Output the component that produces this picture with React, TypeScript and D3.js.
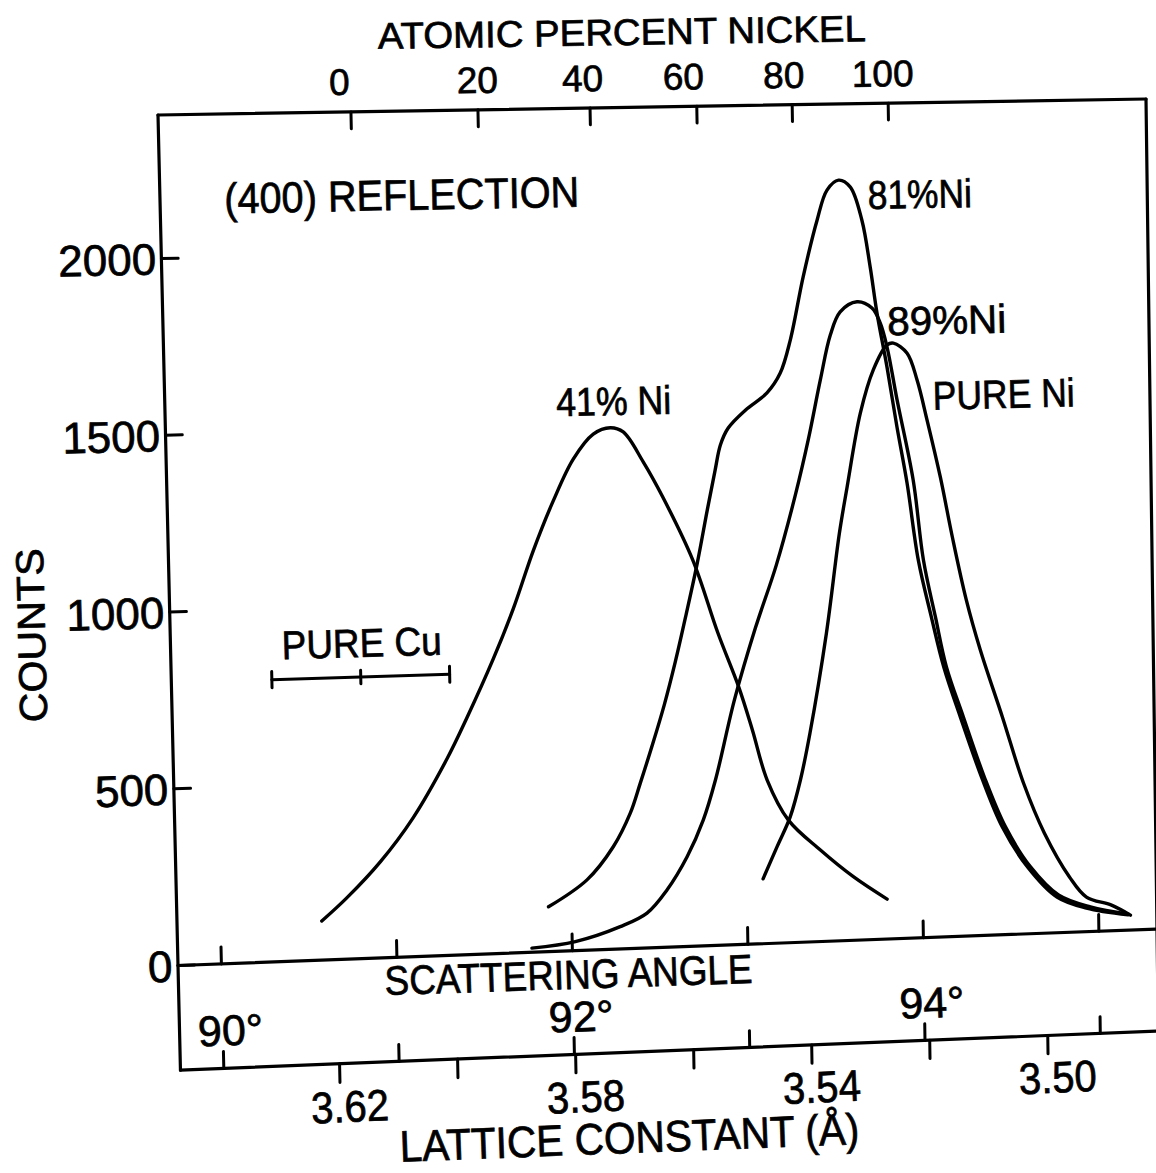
import React from 'react';
import * as d3 from 'd3';

// ---------- data (scattering angle in degrees, counts) ----------
const ANGLE_41 = [90.577, 90.722, 90.917, 91.109, 91.308, 91.426, 91.583, 91.702, 91.822, 91.941, 92.059, 92.175, 92.272, 92.345, 92.455, 92.565, 92.726, 92.861, 92.974, 93.047, 93.126, 93.243, 93.422, 93.607, 93.797];
const COUNTS_41 = [111, 174, 273, 395, 559, 674, 840, 981, 1145, 1286, 1404, 1474, 1491, 1478, 1391, 1286, 1106, 895, 738, 614, 469, 352, 263, 183, 115];

const ANGLE_81 = [91.869, 92.091, 92.244, 92.345, 92.405, 92.477, 92.549, 92.616, 92.683, 92.751, 92.813, 92.862, 92.894, 92.94, 93.039, 93.163, 93.24, 93.30, 93.379, 93.463, 93.522, 93.588, 93.653, 93.716, 93.759, 93.793, 93.845, 93.896, 93.948, 94.005, 94.074, 94.14, 94.23, 94.345, 94.459, 94.599, 94.764, 94.931, 95.168];
const COUNTS_81 = [128, 201, 293, 388, 473, 580, 694, 816, 952, 1097, 1248, 1363, 1434, 1482, 1532, 1580, 1636, 1730, 1911, 2073, 2159, 2187, 2167, 2071, 1935, 1803, 1646, 1473, 1311, 1088, 923, 778, 632, 457, 311, 193, 103, 68, 44];

const ANGLE_89 = [91.77, 92.018, 92.275, 92.429, 92.545, 92.663, 92.759, 92.832, 92.948, 93.074, 93.199, 93.314, 93.392, 93.466, 93.527, 93.585, 93.681, 93.765, 93.811, 93.847, 93.899, 93.983, 94.034, 94.097, 94.155, 94.247, 94.361, 94.477, 94.616, 94.773, 94.954, 95.17];
const COUNTS_89 = [12, 26, 64, 100, 164, 257, 361, 474, 702, 906, 1085, 1285, 1442, 1613, 1742, 1808, 1836, 1817, 1773, 1704, 1551, 1319, 1088, 923, 778, 632, 457, 311, 193, 109, 71, 46];

const ANGLE_NI = [93.093, 93.176, 93.254, 93.315, 93.374, 93.477, 93.56, 93.608, 93.69, 93.767, 93.847, 93.883, 93.96, 94.014, 94.067, 94.137, 94.2, 94.274, 94.349, 94.469, 94.583, 94.698, 94.837, 94.932, 95.074, 95.181];
const COUNTS_NI = [186, 277, 362, 466, 600, 886, 1172, 1304, 1516, 1639, 1710, 1715, 1685, 1607, 1491, 1326, 1152, 969, 824, 628, 436, 289, 160, 100, 74, 43];

const SERIES = [
  { name: '41% Ni', angle: ANGLE_41, counts: COUNTS_41 },
  { name: '81% Ni', angle: ANGLE_81, counts: COUNTS_81 },
  { name: '89% Ni', angle: ANGLE_89, counts: COUNTS_89 },
  { name: 'Pure Ni', angle: ANGLE_NI, counts: COUNTS_NI },
];

// axes
const COUNT_TICKS = [0, 500, 1000, 1500, 2000];
const ANGLE_TICKS = [90, 91, 92, 93, 94, 95];
const ANGLE_LABELS = [90, 92, 94];
const LATTICE_TICKS = [3.62, 3.60, 3.58, 3.56, 3.54, 3.52, 3.50];
const LATTICE_LABELS = [3.62, 3.58, 3.54, 3.50];
const NI_PERCENT = [0, 20, 40, 60, 80, 100];
const NI_LATTICE = [3.6146, 3.5933, 3.5745, 3.5566, 3.5406, 3.5245];
const NI_LABEL_NUDGE = [-11, 0, -7, -13, -8, -5];

// pure Cu marker (lattice constant range and level)
const CU_LATTICE = [3.630, 3.615, 3.600];
const CU_COUNTS = 800;

// ---------- scales (to normalized frame coords) ----------
const angleScale = d3.scaleLinear().domain([90, 95]).range([0.04433, 0.94063]);
const latticeScale = d3.scaleLinear().domain([3.62, 3.50]).range([0.1627, 0.8869]);
const countScale = d3.scaleLinear().domain([0, 2406]).range([1, 0]);

// frame corners on page (scan is slightly skewed)
const TL = [158, 115];
const TR = [1146, 99];
const BL = [178, 965.5];
const BR = [1157, 929];
const V_BOTTOM = 1.123;

function warp(u: number, v: number): [number, number] {
  const x = TL[0] + (TR[0] - TL[0]) * u + (BL[0] - TL[0]) * v + (BR[0] - BL[0] - TR[0] + TL[0]) * u * v;
  const y = TL[1] + (TR[1] - TL[1]) * u + (BL[1] - TL[1]) * v + (BR[1] - BL[1] - TR[1] + TL[1]) * u * v;
  return [x, y];
}
function rotAt(v: number): number {
  const dx = (TR[0] - TL[0]) + (BR[0] - BL[0] - TR[0] + TL[0]) * v;
  const dy = (TR[1] - TL[1]) + (BR[1] - BL[1] - TR[1] + TL[1]) * v;
  return (Math.atan2(dy, dx) * 180) / Math.PI;
}

const FONT = "'Liberation Sans', Arial, sans-serif";
const INK = '#000';

function Label(props: { x: number; y: number; rot: number; size: number; len?: number; anchor?: string; children: React.ReactNode }) {
  const { x, y, rot, size, len, anchor = 'middle', children } = props;
  return (
    <text
      x={x}
      y={y}
      transform={`rotate(${rot.toFixed(3)} ${x.toFixed(2)} ${y.toFixed(2)})`}
      fontSize={size}
      fontFamily={FONT}
      textAnchor={anchor as any}
      fill={INK}
      stroke={INK}
      strokeWidth={0.7}
      {...(len ? { textLength: len, lengthAdjust: 'spacingAndGlyphs' } : {})}
    >
      {children}
    </text>
  );
}

function Seg({ a, b, w = 3 }: { a: [number, number]; b: [number, number]; w?: number }) {
  return <line x1={a[0]} y1={a[1]} x2={b[0]} y2={b[1]} stroke={INK} strokeWidth={w} strokeLinecap="round" />;
}

export default function App() {
  const line = d3.line<[number, number]>().curve(d3.curveCatmullRom.alpha(0.5));

  const paths = SERIES.map((s) => {
    const pts = s.angle.map((a, i) => warp(angleScale(a), countScale(s.counts[i])));
    return { name: s.name, d: line(pts) || '' };
  });

  const frame = [
    [warp(0, 0), warp(0, V_BOTTOM)],
    [warp(0, 0), warp(1, 0)],
    [warp(1, 0), warp(1, V_BOTTOM)],
    [warp(0, 1), warp(1, 1)],
    [warp(0, V_BOTTOM), warp(1, V_BOTTOM)],
  ] as [number, number][][];

  const cuV = countScale(CU_COUNTS);
  const cuU = CU_LATTICE.map((l) => latticeScale(l));

  return (
    <svg
      width={1156}
      height={1173}
      viewBox="0 0 1156 1173"
      style={{ position: 'absolute', left: 0, top: 0, background: '#fff' }}
    >
      <rect x={0} y={0} width={1156} height={1173} fill="#fff" />

      {/* frame */}
      {frame.map((f, i) => (
        <Seg key={'f' + i} a={f[0]} b={f[1]} w={3.2} />
      ))}

      {/* count ticks + labels */}
      {COUNT_TICKS.map((c) => {
        const v = countScale(c);
        const p = warp(0, v);
        const q = warp(0.017, v);
        return (
          <g key={'c' + c}>
            <Seg a={p} b={q} w={3} />
            <Label x={p[0] - 5} y={p[1] + 16} rot={rotAt(v)} size={44} anchor="end">
              {String(c)}
            </Label>
          </g>
        );
      })}

      {/* top axis: atomic percent nickel */}
      {NI_PERCENT.map((n, i) => {
        const u = latticeScale(NI_LATTICE[i]);
        const p = warp(u, 0);
        const q = warp(u, 0.02);
        const t = warp(u, -0.02);
        return (
          <g key={'n' + n}>
            <Seg a={p} b={q} w={3} />
            <Label x={t[0] + NI_LABEL_NUDGE[i]} y={t[1]} rot={rotAt(0)} size={37}>
              {String(n)}
            </Label>
          </g>
        );
      })}

      {/* scattering angle ticks on zero line and bottom line */}
      {ANGLE_TICKS.map((a) => {
        const u = angleScale(a);
        return (
          <g key={'a' + a}>
            <Seg a={warp(u, 1)} b={warp(u, 0.98)} w={3} />
            <Seg a={warp(u, V_BOTTOM)} b={warp(u, V_BOTTOM - 0.02)} w={3} />
          </g>
        );
      })}
      {ANGLE_LABELS.map((a) => {
        const p = warp(angleScale(a) + 0.008, 1.096);
        return (
          <Label key={'al' + a} x={p[0]} y={p[1]} rot={rotAt(1.096)} size={43}>
            {`${a}°`}
          </Label>
        );
      })}

      {/* lattice constant ticks */}
      {LATTICE_TICKS.map((l) => {
        const u = latticeScale(l);
        return <Seg key={'l' + l} a={warp(u, V_BOTTOM)} b={warp(u, V_BOTTOM + 0.022)} w={3} />;
      })}
      {LATTICE_LABELS.map((l) => {
        const p = warp(latticeScale(l) + 0.01, 1.192);
        return (
          <Label key={'ll' + l} x={p[0]} y={p[1]} rot={rotAt(1.192)} size={44} len={78}>
            {l.toFixed(2)}
          </Label>
        );
      })}

      {/* curves */}
      {paths.map((p) => (
        <path key={p.name} d={p.d} fill="none" stroke={INK} strokeWidth={3.4} strokeLinecap="round" strokeLinejoin="round" />
      ))}

      {/* pure Cu marker */}
      <Seg a={warp(cuU[0], cuV)} b={warp(cuU[2], cuV)} w={3} />
      <Seg a={warp(cuU[0], cuV - 0.0095)} b={warp(cuU[0], cuV + 0.0095)} w={3} />
      <Seg a={warp(cuU[2], cuV - 0.0095)} b={warp(cuU[2], cuV + 0.0095)} w={3} />
      <Seg a={warp(cuU[1], cuV - 0.008)} b={warp(cuU[1], cuV + 0.008)} w={3} />

      {/* titles and annotations */}
      <Label x={622} y={45} rot={-0.9} size={37} len={488}>ATOMIC PERCENT NICKEL</Label>
      <Label x={402} y={210} rot={-1.1} size={43} len={355}>(400) REFLECTION</Label>
      <Label x={45} y={635} rot={-91.4} size={39} len={174}>COUNTS</Label>
      <Label x={569} y={989} rot={-1.9} size={41} len={368}>SCATTERING ANGLE</Label>
      <Label x={630} y={1153} rot={-2.2} size={44} len={460}>LATTICE CONSTANT (Å)</Label>

      <Label x={614} y={415} rot={-1.3} size={40} len={115}>41% Ni</Label>
      <Label x={920} y={208} rot={-1.1} size={40} len={104}>81%Ni</Label>
      <Label x={947} y={334} rot={-1.3} size={40} len={119}>89%Ni</Label>
      <Label x={1004} y={408} rot={-1.4} size={40} len={142}>PURE Ni</Label>
      <Label x={362} y={657} rot={-1.6} size={40} len={160}>PURE Cu</Label>
    </svg>
  );
}
